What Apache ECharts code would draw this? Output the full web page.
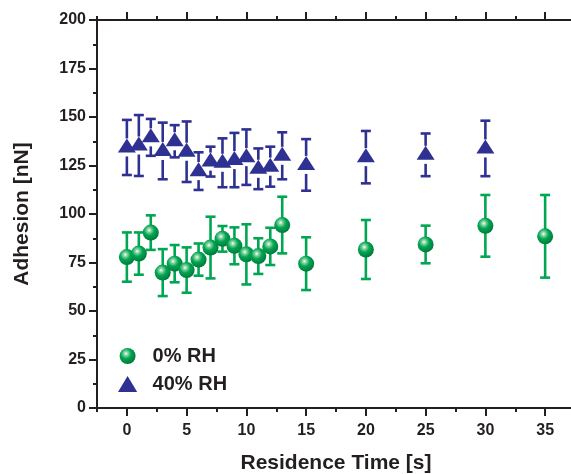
<!DOCTYPE html>
<html><head><meta charset="utf-8">
<script src="https://cdn.jsdelivr.net/npm/echarts@6/dist/echarts.min.js"></script>
<style>html,body{margin:0;padding:0;background:#fff}#c{width:571px;height:474px}</style>
</head><body><div id="c"></div>
<script>
var timesRH0 = [0,1,2,3,4,5,6,7,8,9,10,11,12,13,15,20,25,30,35];
var adhesionRH0 = [77.8,79.6,90.4,69.8,74.4,71.1,76.5,82.7,87.2,83.6,79.2,78.3,83.3,94.3,74.4,81.7,84.3,93.9,88.5];
var errorRH0 = [12.7,10.9,8.9,12.1,9.6,11.7,8.3,15.9,6.6,9.5,15.5,9.2,9.6,14.6,13.6,15.2,9.7,15.9,21.3];
var timesRH40 = [0,1,2,3,4,5,6,7,8,9,10,11,12,13,15,20,25,30];
var adhesionRH40 = [134.3,135.3,139.5,132.5,137.5,132.1,122.1,127,126.4,127.8,129.3,123.3,124.4,130,125.3,129.3,130.5,133.8];
var errorRH40 = [14.2,15.7,9.5,14.6,8.3,15.6,9.7,7.7,12.6,14,14.3,10.5,10.3,12.1,13.3,13.5,11,14.3];
var xMajorTicks = [0,5,10,15,20,25,30,35];
var seriesNames = ['0% RH', '40% RH'];

var GREEN = '#00a651', BLUE = '#2e3192', INK = '#231f20';
var FONT = 'Liberation Sans';
var sphere = {
  type: 'radial', x: 0.4, y: 0.35, r: 0.65,
  colorStops: [
    {offset: 0, color: '#ffffff'},
    {offset: 0.18, color: '#8fd6a8'},
    {offset: 0.5, color: GREEN},
    {offset: 1, color: '#007a3b'}
  ]
};

function pairs(xs, ys){ return xs.map(function(x,i){ return [x, ys[i]]; }); }
function errData(xs, ys, es){ return xs.map(function(x,i){ return [x, ys[i]-es[i], ys[i]+es[i], ys[i]]; }); }
function errRender(color, gap){
  return function(params, api){
    var x = api.value(0);
    var lo = api.coord([x, api.value(1)]);
    var hi = api.coord([x, api.value(2)]);
    var mid = api.coord([x, api.value(3)]);
    var cw = 5;
    var st = {stroke: color, lineWidth: 2.6};
    var ch = [
      {type:'line', shape:{x1:hi[0], y1:hi[1], x2:mid[0], y2:mid[1]-gap}, style:st},
      {type:'line', shape:{x1:mid[0], y1:mid[1]+gap, x2:lo[0], y2:lo[1]}, style:st},
      {type:'line', shape:{x1:hi[0]-cw, y1:hi[1], x2:hi[0]+cw, y2:hi[1]}, style:st},
      {type:'line', shape:{x1:lo[0]-cw, y1:lo[1], x2:lo[0]+cw, y2:lo[1]}, style:st}
    ];
    return {type:'group', children: ch};
  };
}

var baseX = {type:'value', min:-2.5, max:37.5, interval:2.5, gridIndex:0};
function xa(extra){ return Object.assign({}, baseX, extra); }
var lineSt = {show:true, onZero:false, lineStyle:{color:INK, width:2}};

var option = {
  animation: false,
  grid: {left:97, top:20, bottom:66, width:478, containLabel:false, outerBoundsMode:'none'},
  legend: {
    orient:'vertical', left:113, top:341, itemWidth:40, itemHeight:16, itemGap:8,
    textStyle:{fontFamily:FONT, fontWeight:'bold', fontSize:20, color:INK},
    data:[
      {name: seriesNames[0], icon:'circle'},
      {name: seriesNames[1], icon:'path://M9,0 L18,15 L0,15 Z'}
    ]
  },
  xAxis: [
    xa({position:'bottom', axisLine:lineSt,
        axisTick:{show:true, length:4, lineStyle:{color:INK, width:2}},
        axisLabel:{show:true, customValues:xMajorTicks, margin:15, fontFamily:FONT, fontWeight:'bold', fontSize:16, color:INK},
        splitLine:{show:false},
        name:'Residence Time [s]', nameLocation:'middle', nameGap:45,
        nameTextStyle:{fontFamily:FONT, fontWeight:'bold', fontSize:21, color:INK}}),
    xa({position:'bottom', axisLine:{show:false, onZero:false},
        axisTick:{show:true, customValues:xMajorTicks, length:8, lineStyle:{color:INK, width:2}},
        axisLabel:{show:false}, splitLine:{show:false}}),
    xa({position:'top', axisLine:lineSt,
        axisTick:{show:true, length:4, lineStyle:{color:INK, width:2}},
        axisLabel:{show:false}, splitLine:{show:false}}),
    xa({position:'top', axisLine:{show:false, onZero:false},
        axisTick:{show:true, customValues:xMajorTicks, length:8, lineStyle:{color:INK, width:2}},
        axisLabel:{show:false}, splitLine:{show:false}})
  ],
  yAxis: [{
    type:'value', min:0, max:200, interval:25, position:'left',
    axisLine:lineSt,
    axisTick:{show:true, length:8, lineStyle:{color:INK, width:2}},
    minorTick:{show:true, splitNumber:2, length:4, lineStyle:{color:INK, width:2}},
    axisLabel:{margin:11, fontFamily:FONT, fontWeight:'bold', fontSize:16, color:INK},
    splitLine:{show:false},
    name:'Adhesion [nN]', nameLocation:'middle', nameGap:64,
    nameTextStyle:{fontFamily:FONT, fontWeight:'bold', fontSize:21, color:INK}
  }],
  series: [
    {type:'custom', name:'err0', xAxisIndex:0, data:errData(timesRH0, adhesionRH0, errorRH0),
     renderItem: errRender(GREEN, 0), z:2, silent:true},
    {type:'custom', name:'err40', xAxisIndex:0, data:errData(timesRH40, adhesionRH40, errorRH40),
     renderItem: errRender(BLUE, 9), z:2, silent:true},
    {type:'scatter', name:seriesNames[0], xAxisIndex:0, data:pairs(timesRH0, adhesionRH0),
     symbol:'circle', symbolSize:16, itemStyle:{color:sphere, opacity:1}, z:3},
    {type:'scatter', name:seriesNames[1], xAxisIndex:0, data:pairs(timesRH40, adhesionRH40),
     symbol:'triangle', symbolSize:[18,14], symbolOffset:[0,-2], itemStyle:{color:BLUE, opacity:1}, z:3}
  ]
};
var chart = echarts.init(document.getElementById('c'), null, {renderer:'canvas'});
chart.setOption(option);
</script></body></html>
